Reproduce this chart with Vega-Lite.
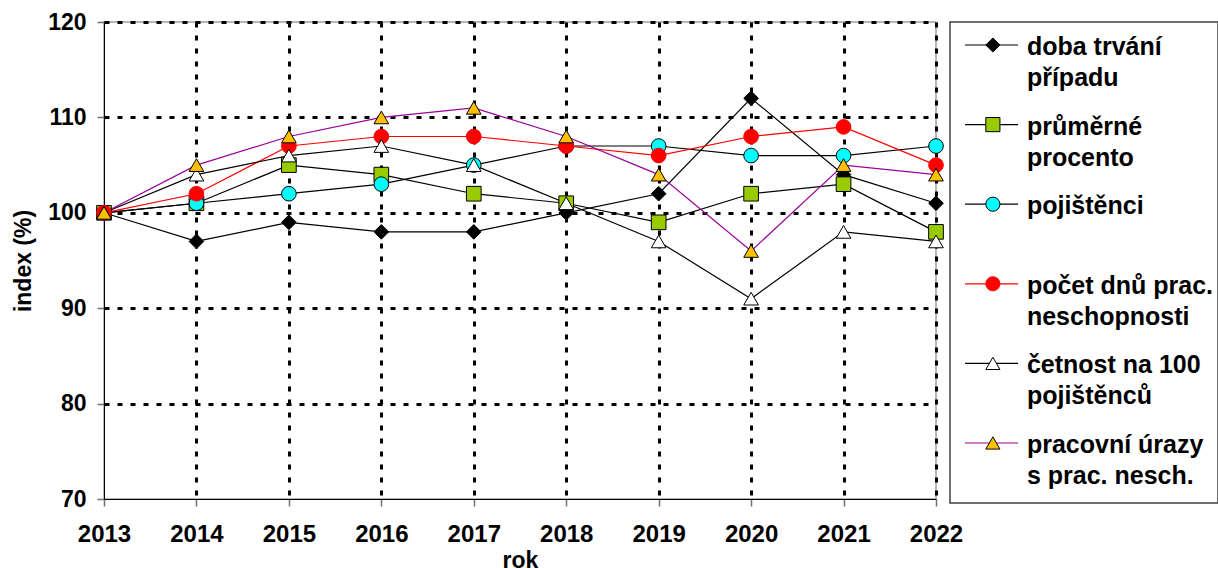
{
  "$schema": "https://vega.github.io/schema/vega-lite/v6.json",
  "padding": {"left": 11, "top": 10, "right": 0, "bottom": 0},
  "spacing": 14,
  "bounds": "flush",
  "background": "white",
  "config": {
    "font": "Liberation Sans",
    "view": {"stroke": "#a0a0a0", "strokeWidth": 1.5},
    "axis": {
      "labelFont": "Liberation Sans",
      "labelFontWeight": "bold",
      "labelColor": "black",
      "titleFont": "Liberation Sans",
      "titleFontWeight": "bold",
      "titleColor": "black",
      "domainColor": "black",
      "domainWidth": 1,
      "tickColor": "#707070",
      "tickSize": 7,
      "tickWidth": 1.5,
      "grid": true,
      "gridColor": "black",
      "gridWidth": 3,
      "gridDash": [5, 8]
    }
  },
  "datasets": {
    "values": [
      {"series": "doba", "year": 2013, "value": 100},
      {"series": "doba", "year": 2014, "value": 97},
      {"series": "doba", "year": 2015, "value": 99},
      {"series": "doba", "year": 2016, "value": 98},
      {"series": "doba", "year": 2017, "value": 98},
      {"series": "doba", "year": 2018, "value": 100},
      {"series": "doba", "year": 2019, "value": 102},
      {"series": "doba", "year": 2020, "value": 112},
      {"series": "doba", "year": 2021, "value": 104},
      {"series": "doba", "year": 2022, "value": 101},
      {"series": "prumerne", "year": 2013, "value": 100},
      {"series": "prumerne", "year": 2014, "value": 101},
      {"series": "prumerne", "year": 2015, "value": 105},
      {"series": "prumerne", "year": 2016, "value": 104},
      {"series": "prumerne", "year": 2017, "value": 102},
      {"series": "prumerne", "year": 2018, "value": 101},
      {"series": "prumerne", "year": 2019, "value": 99},
      {"series": "prumerne", "year": 2020, "value": 102},
      {"series": "prumerne", "year": 2021, "value": 103},
      {"series": "prumerne", "year": 2022, "value": 98},
      {"series": "pojistenci", "year": 2013, "value": 100},
      {"series": "pojistenci", "year": 2014, "value": 101},
      {"series": "pojistenci", "year": 2015, "value": 102},
      {"series": "pojistenci", "year": 2016, "value": 103},
      {"series": "pojistenci", "year": 2017, "value": 105},
      {"series": "pojistenci", "year": 2018, "value": 107},
      {"series": "pojistenci", "year": 2019, "value": 107},
      {"series": "pojistenci", "year": 2020, "value": 106},
      {"series": "pojistenci", "year": 2021, "value": 106},
      {"series": "pojistenci", "year": 2022, "value": 107},
      {"series": "pocet", "year": 2013, "value": 100},
      {"series": "pocet", "year": 2014, "value": 102},
      {"series": "pocet", "year": 2015, "value": 107},
      {"series": "pocet", "year": 2016, "value": 108},
      {"series": "pocet", "year": 2017, "value": 108},
      {"series": "pocet", "year": 2018, "value": 107},
      {"series": "pocet", "year": 2019, "value": 106},
      {"series": "pocet", "year": 2020, "value": 108},
      {"series": "pocet", "year": 2021, "value": 109},
      {"series": "pocet", "year": 2022, "value": 105},
      {"series": "cetnost", "year": 2013, "value": 100},
      {"series": "cetnost", "year": 2014, "value": 104},
      {"series": "cetnost", "year": 2015, "value": 106},
      {"series": "cetnost", "year": 2016, "value": 107},
      {"series": "cetnost", "year": 2017, "value": 105},
      {"series": "cetnost", "year": 2018, "value": 101},
      {"series": "cetnost", "year": 2019, "value": 97},
      {"series": "cetnost", "year": 2020, "value": 91},
      {"series": "cetnost", "year": 2021, "value": 98},
      {"series": "cetnost", "year": 2022, "value": 97},
      {"series": "urazy", "year": 2013, "value": 100},
      {"series": "urazy", "year": 2014, "value": 105},
      {"series": "urazy", "year": 2015, "value": 108},
      {"series": "urazy", "year": 2016, "value": 110},
      {"series": "urazy", "year": 2017, "value": 111},
      {"series": "urazy", "year": 2018, "value": 108},
      {"series": "urazy", "year": 2019, "value": 104},
      {"series": "urazy", "year": 2020, "value": 96},
      {"series": "urazy", "year": 2021, "value": 105},
      {"series": "urazy", "year": 2022, "value": 104}
    ],
    "legend": [
      {"series": "doba", "order": 0, "line1": "doba trvání", "line2": "případu"},
      {"series": "prumerne", "order": 1, "line1": "průměrné", "line2": "procento"},
      {"series": "pojistenci", "order": 2, "line1": "pojištěnci", "line2": ""},
      {"series": "pocet", "order": 3, "line1": "počet dnů prac.", "line2": "neschopnosti"},
      {"series": "cetnost", "order": 4, "line1": "četnost na 100", "line2": "pojištěnců"},
      {"series": "urazy", "order": 5, "line1": "pracovní úrazy", "line2": "s prac. nesch."}
    ]
  },
  "hconcat": [
    {
      "width": 832,
      "height": 477,
      "data": {"name": "values"},
      "encoding": {
        "x": {
          "field": "year",
          "type": "quantitative",
          "scale": {"domain": [2013, 2022], "nice": false, "zero": false},
          "axis": {
            "values": [2013, 2014, 2015, 2016, 2017, 2018, 2019, 2020, 2021, 2022],
            "format": "d",
            "title": "rok",
            "labelFontSize": 24,
            "labelPadding": 16,
            "labelFlush": false,
            "labelOverlap": false,
            "titleFontSize": 23,
            "titlePadding": 3,
            "gridOpacity": {"condition": {"test": "datum.value == 2013", "value": 0}, "value": 1}
          }
        },
        "y": {
          "field": "value",
          "type": "quantitative",
          "scale": {"domain": [70, 120], "nice": false, "zero": false},
          "axis": {
            "values": [70, 80, 90, 100, 110, 120],
            "title": "index (%)",
            "labelFontSize": 23,
            "labelPadding": 11,
            "labelFlush": false,
            "titleFontSize": 23,
            "titlePadding": 12,
            "gridOpacity": {"condition": {"test": "datum.value == 70", "value": 0}, "value": 1}
          }
        }
      },
      "layer": [
        {
          "mark": {"type": "line", "strokeWidth": 1.2},
          "encoding": {
            "color": {
              "field": "series",
              "type": "nominal",
              "scale": {
                "domain": ["doba", "prumerne", "pojistenci", "pocet", "cetnost", "urazy"],
                "range": ["#000000", "#000000", "#000000", "#ff0000", "#000000", "#990099"]
              },
              "legend": null
            }
          }
        },
        {
          "mark": {"type": "point", "filled": true, "size": 215, "strokeWidth": 1, "opacity": 1},
          "encoding": {
            "shape": {
              "field": "series",
              "type": "nominal",
              "scale": {
                "domain": ["doba", "prumerne", "pojistenci", "pocet", "cetnost", "urazy"],
                "range": ["diamond", "square", "circle", "circle", "triangle-up", "triangle-up"]
              },
              "legend": null
            },
            "fill": {
              "field": "series",
              "type": "nominal",
              "scale": {
                "domain": ["doba", "prumerne", "pojistenci", "pocet", "cetnost", "urazy"],
                "range": ["#000000", "#99cc00", "#00ffff", "#ff0000", "#ffffff", "#ffc000"]
              },
              "legend": null
            },
            "stroke": {
              "field": "series",
              "type": "nominal",
              "scale": {
                "domain": ["doba", "prumerne", "pojistenci", "pocet", "cetnost", "urazy"],
                "range": ["#000000", "#000000", "#000000", "#ff0000", "#000000", "#000000"]
              },
              "legend": null
            }
          }
        }
      ]
    },
    {
      "width": 268,
      "height": 481,
      "view": {"stroke": "#404040", "strokeWidth": 1.5},
      "data": {"name": "legend"},
      "encoding": {
        "y": {
          "field": "order",
          "type": "quantitative",
          "scale": {"domain": [-0.289, 5.754], "reverse": true, "nice": false, "zero": false},
          "axis": null
        }
      },
      "layer": [
        {
          "mark": {"type": "rule", "strokeWidth": 1.2},
          "encoding": {
            "x": {"datum": 5.6, "type": "quantitative", "scale": {"domain": [0, 100], "nice": false, "zero": false}, "axis": null},
            "x2": {"datum": 25.4},
            "color": {"field": "series", "type": "nominal", "legend": null}
          }
        },
        {
          "mark": {"type": "point", "filled": true, "size": 200, "strokeWidth": 1, "opacity": 1},
          "encoding": {
            "x": {"datum": 16, "type": "quantitative"},
            "shape": {"field": "series", "type": "nominal", "legend": null},
            "fill": {"field": "series", "type": "nominal", "legend": null},
            "stroke": {"field": "series", "type": "nominal", "legend": null}
          }
        },
        {
          "mark": {"type": "text", "align": "left", "baseline": "middle", "fontSize": 25, "fontWeight": "bold", "color": "black", "dy": 2},
          "encoding": {
            "x": {"datum": 28.7, "type": "quantitative"},
            "text": {"field": "line1"}
          }
        },
        {
          "mark": {"type": "text", "align": "left", "baseline": "middle", "fontSize": 25, "fontWeight": "bold", "color": "black", "dy": 33},
          "encoding": {
            "x": {"datum": 28.7, "type": "quantitative"},
            "text": {"field": "line2"}
          }
        }
      ]
    }
  ]
}
